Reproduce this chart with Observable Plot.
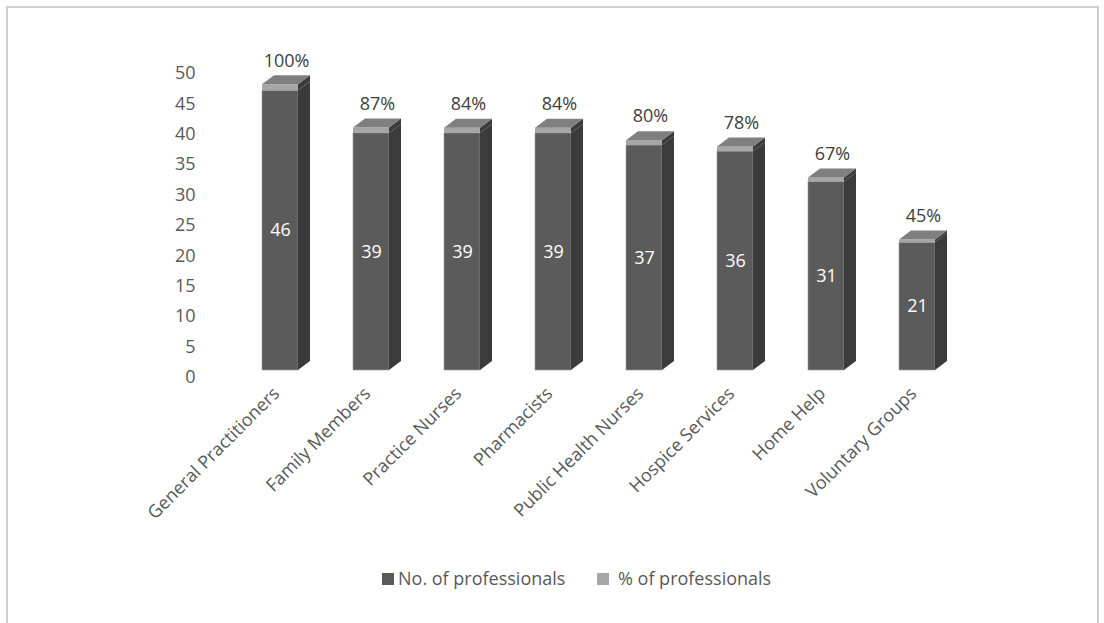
<!DOCTYPE html>
<html>
<head>
<meta charset="utf-8">
<script src="https://cdn.jsdelivr.net/npm/d3@7"></script>
<script src="https://cdn.jsdelivr.net/npm/@observablehq/plot@0.6"></script>
<style>
  html, body { margin: 0; padding: 0; background: #fff; width: 1104px; height: 623px; overflow: hidden; }
  #frame { position: absolute; left: 6px; top: 6px; width: 1089px; height: 700px;
           border: 2px solid #cfcfcf; border-bottom: none; }
  #chart { position: absolute; left: 0; top: 0; }
  #legend { position: absolute; left: 0; top: 566px; width: 1104px; height: 26px; font-family: "Open Sans", sans-serif;
            font-size: 18px; color: #595959; }
  #legend span { position: absolute; white-space: nowrap; }
  .sw { width: 12px; height: 12px; top: 7px; }
</style>
</head>
<body>
<div id="frame"></div>
<div id="chart"></div>
<div id="legend">
  <span class="sw" style="left:382px;background:#595959"></span><span style="left:398px;top:0">No. of professionals</span>
  <span class="sw" style="left:597px;background:#a6a6a6"></span><span style="left:618px;top:0">% of professionals</span>
</div>
<script>
const categories = ["General Practitioners","Family Members","Practice Nurses","Pharmacists","Public Health Nurses","Hospice Services","Home Help","Voluntary Groups"];
const counts = [46, 39, 39, 39, 37, 36, 31, 21];
const percents = [100, 87, 84, 84, 80, 78, 67, 45];
const yTicks = [0, 5, 10, 15, 20, 25, 30, 35, 40, 45, 50];

const data = categories.map((c, i) => ({cat: c, n: counts[i], p: percents[i]}));

const W = 1104, H = 560;
const plot = Plot.plot({
  width: W,
  height: H,
  marginTop: 66,
  marginBottom: H - 370,
  marginLeft: 207,
  marginRight: 114,
  style: {fontFamily: "'Open Sans', sans-serif", background: "transparent", overflow: "visible"},
  x: {type: "band", domain: categories, padding: 0.604, label: null},
  y: {domain: [0, 50], label: null},
  marks: [
    Plot.barY(data, {x: "cat", y1: 0, y2: "n", fill: "#5b5b5b", stroke: "#9a9a9a", strokeWidth: 0.6}),
    Plot.barY(data, {x: "cat", y1: "n", y2: d => d.n + d.p / 100, fill: "#a6a6a6"}),
    Plot.text(data, {x: "cat", y: d => d.n / 2, text: d => String(d.n), fill: "white", fontSize: 18}),
    Plot.text(data, {x: "cat", y: d => d.n + d.p / 100, text: d => d.p + "%", fill: "#404040", fontSize: 18, dy: -24, dx: 6}),
    Plot.axisY({ticks: yTicks, tickSize: 0, tickPadding: 12, dy: 7, fontSize: 18, fill: "#595959", label: null}),
    Plot.axisX({tickSize: 0, tickRotate: -45, tickPadding: 20, dx: -4, fontSize: 18, fill: "#595959", label: null})
  ]
});
document.getElementById("chart").appendChild(plot);

// 3D faces derived from the rendered front faces
const DX = 12, DY = 9;
const svg = d3.select(plot);
const barGroups = svg.selectAll("g").filter(function() {
  return d3.select(this).selectChildren("rect").size() === data.length;
}).nodes();
function addFaces(gNode, sideFill, topFill) {
  const g = d3.select(gNode);
  const rects = g.selectChildren("rect").nodes();
  rects.forEach(node => {
    const r = d3.select(node);
    const x = +r.attr("x"), y = +r.attr("y"), w = +r.attr("width"), h = +r.attr("height");
    g.append("polygon")
      .attr("points", [[x + w, y + h], [x + w + DX, y + h - DY], [x + w + DX, y - DY], [x + w, y]].join(" "))
      .attr("fill", sideFill).attr("stroke", "none");
    if (topFill) {
      g.append("polygon")
        .attr("points", [[x, y], [x + DX, y - DY], [x + w + DX, y - DY], [x + w, y]].join(" "))
        .attr("fill", topFill).attr("stroke", "none");
    }
  });
}
if (barGroups.length >= 2) {
  addFaces(barGroups[0], "#3b3b3b", null);
  addFaces(barGroups[1], "#3b3b3b", "#7f7f7f");
}
</script>
</body>
</html>
